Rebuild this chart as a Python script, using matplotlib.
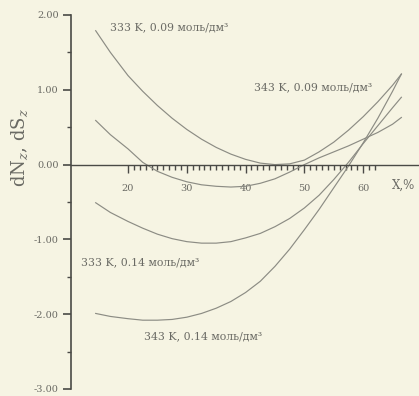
import numpy as np
import matplotlib
matplotlib.use("Agg")
import matplotlib.pyplot as plt

plt.rcParams['font.family'] = ['DejaVu Serif']
plt.rcParams['mathtext.fontset'] = 'dejavuserif'
plt.rcParams['axes.unicode_minus'] = False

# X, %
x = [14.5, 17, 20, 22.5, 25, 27.5, 30, 32.5, 35, 37.5, 40, 42.5,
     45, 47.5, 50, 52.5, 55, 57.5, 60, 62.5, 65, 66.5]

# 333 K, 0.09 mol/dm3
y_333_009 = [1.79, 1.50, 1.19, 0.98, 0.79, 0.62, 0.47, 0.34, 0.23, 0.14, 0.07, 0.02,
             0.00, 0.01, 0.06, 0.17, 0.30, 0.46, 0.64, 0.84, 1.06, 1.21]
# 343 K, 0.09 mol/dm3
y_343_009 = [0.59, 0.40, 0.21, 0.03, -0.09, -0.17, -0.23, -0.27, -0.29, -0.30, -0.29, -0.25,
             -0.19, -0.10, 0.00, 0.09, 0.17, 0.25, 0.34, 0.43, 0.54, 0.63]
# 333 K, 0.14 mol/dm3
y_333_014 = [-0.51, -0.64, -0.76, -0.85, -0.93, -0.99, -1.03, -1.05, -1.05, -1.03, -0.98, -0.92,
             -0.83, -0.72, -0.58, -0.41, -0.20, 0.03, 0.28, 0.52, 0.76, 0.90]
# 343 K, 0.14 mol/dm3
y_343_014 = [-1.99, -2.03, -2.06, -2.08, -2.08, -2.07, -2.04, -1.99, -1.92, -1.83, -1.71, -1.56,
             -1.36, -1.13, -0.87, -0.60, -0.31, -0.02, 0.29, 0.62, 0.98, 1.21]

curve_labels = ["333 K, 0.09 моль/дм³", "343 K, 0.09 моль/дм³",
                "333 K, 0.14 моль/дм³", "343 K, 0.14 моль/дм³"]
x_ticks = [20, 30, 40, 50, 60]
y_ticks = [2.0, 1.0, 0.0, -1.0, -2.0, -3.0]

bg = '#f6f4e3'
line_c = '#8c8c84'
text_c = '#6a6a64'
axis_c = '#4a4a46'

fig = plt.figure(figsize=(4.19, 3.96), dpi=100, facecolor=bg)
ax = fig.add_axes([71 / 419, 7 / 396, 348 / 419, 374 / 396])
ax.set_facecolor(bg)

for ys in [y_333_009, y_343_009, y_333_014, y_343_014]:
    ax.plot(x, ys, color=line_c, lw=0.85)

ax.set_xlim(10.3, 69.5)
ax.set_ylim(-3, 2)

for s in ['top', 'right']:
    ax.spines[s].set_visible(False)
ax.spines['bottom'].set_position(('data', 0))
ax.spines['bottom'].set_color(axis_c)
ax.spines['left'].set_color(axis_c)
ax.spines['bottom'].set_linewidth(1.0)
ax.spines['left'].set_linewidth(1.2)

ax.set_xticks(x_ticks)
ax.set_xticklabels([str(t) for t in x_ticks])
ax.set_xticks([v for v in range(20, 63) if v not in x_ticks], minor=True)
ax.set_yticks(y_ticks)
ax.set_yticklabels(['%.2f' % t for t in y_ticks])
ax.set_yticks([1.5, 0.5, -0.5, -1.5, -2.5], minor=True)

ax.tick_params(axis='x', which='major', direction='out', length=6, width=1,
               color=axis_c, labelsize=7, labelcolor=text_c, pad=8)
ax.tick_params(axis='x', which='minor', direction='out', length=3.5, width=1, color=axis_c)
ax.tick_params(axis='y', which='major', direction='out', length=6, width=1.2,
               color=axis_c, labelsize=7, labelcolor=text_c, pad=3)
ax.tick_params(axis='y', which='minor', direction='out', length=3, width=1, color=axis_c)

ax.text(66.8, -0.27, 'X,%', fontsize=8.5, color=text_c, ha='center', va='center')

ax.text(17.0, 1.83, curve_labels[0], fontsize=7.8, color=text_c, va='center')
ax.text(41.5, 1.03, curve_labels[1], fontsize=7.8, color=text_c, va='center')
ax.text(12.0, -1.30, curve_labels[2], fontsize=7.8, color=text_c, va='center')
ax.text(22.7, -2.30, curve_labels[3], fontsize=7.8, color=text_c, va='center')

fig.text(20 / 419, 1 - 148 / 396, 'dN$_z$, dS$_z$', rotation=90, fontsize=13,
         color=text_c, ha='center', va='center')

fig.savefig('out.png', dpi=100, facecolor=bg)
